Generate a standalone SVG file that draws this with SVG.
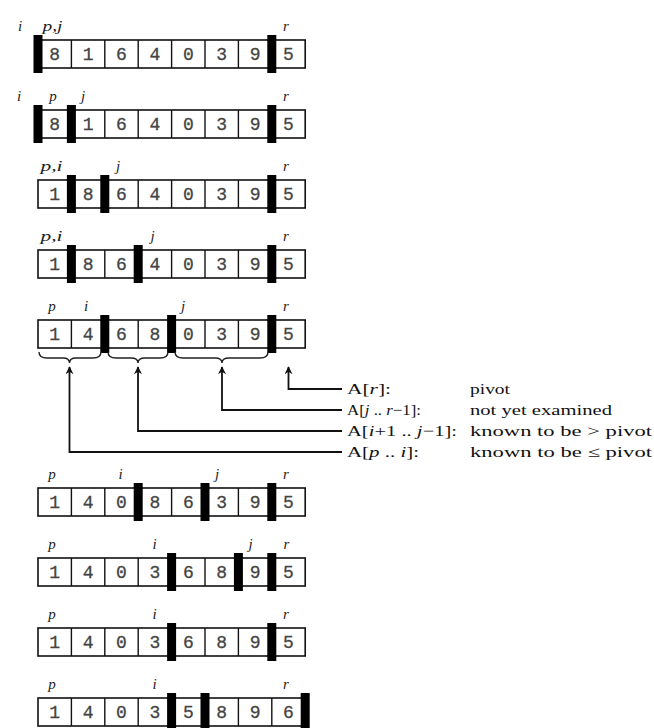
<svg xmlns="http://www.w3.org/2000/svg" width="654" height="728" viewBox="0 0 654 728">
<style>
.box{fill:none;stroke:#111;stroke-width:1.6}
.div{stroke:#111;stroke-width:1.4}
.bar{fill:#000}
.d{font-family:"Liberation Mono","DejaVu Sans Mono",monospace;font-size:18px;fill:#444;stroke:#444;stroke-width:0.3;text-anchor:middle}
.lb{font-family:"Liberation Serif","Times New Roman",serif;font-style:italic;font-size:15px;fill:#222;text-anchor:middle}
.lg{font-family:"Liberation Serif","Times New Roman",serif;font-size:15px;fill:#111}
.it{font-style:italic}
.con{fill:none;stroke:#111;stroke-width:1.8}
.br{fill:none;stroke:#222;stroke-width:1.4}
</style>
<defs>
<marker id="ah" viewBox="0 0 10 10" refX="9" refY="5" markerWidth="11" markerHeight="8" markerUnits="userSpaceOnUse" orient="auto">
<path d="M0,0 L10,5 L0,10 L3,5 Z" fill="#111"/>
</marker>
<g id="grid">
<rect class="box" x="38" y="0" width="267.2" height="28"/>
<line class="div" x1="71.4" y1="0" x2="71.4" y2="28"/>
<line class="div" x1="104.8" y1="0" x2="104.8" y2="28"/>
<line class="div" x1="138.2" y1="0" x2="138.2" y2="28"/>
<line class="div" x1="171.6" y1="0" x2="171.6" y2="28"/>
<line class="div" x1="205" y1="0" x2="205" y2="28"/>
<line class="div" x1="238.4" y1="0" x2="238.4" y2="28"/>
<line class="div" x1="271.8" y1="0" x2="271.8" y2="28"/>
</g>
</defs>

<g id="row1" transform="translate(0,40)">
<use href="#grid"/>
<text class="d" y="20"><tspan x="54.7">8</tspan><tspan x="88.1">1</tspan><tspan x="121.5">6</tspan><tspan x="154.9">4</tspan><tspan x="188.3">0</tspan><tspan x="221.7">3</tspan><tspan x="255.1">9</tspan><tspan x="288.5">5</tspan></text>
<rect class="bar" x="33.5" y="-5" width="9" height="38"/>
<rect class="bar" x="267.3" y="-5" width="9" height="38"/>
<text class="lb" x="20" y="-9">i</text>
<text class="lb" x="52.5" y="-9" textLength="20" lengthAdjust="spacingAndGlyphs">p,j</text>
<text class="lb" x="286" y="-9">r</text>
</g>

<g id="row2" transform="translate(0,110)">
<use href="#grid"/>
<text class="d" y="20"><tspan x="54.7">8</tspan><tspan x="88.1">1</tspan><tspan x="121.5">6</tspan><tspan x="154.9">4</tspan><tspan x="188.3">0</tspan><tspan x="221.7">3</tspan><tspan x="255.1">9</tspan><tspan x="288.5">5</tspan></text>
<rect class="bar" x="33.5" y="-5" width="9" height="38"/>
<rect class="bar" x="66.9" y="-5" width="9" height="38"/>
<rect class="bar" x="267.3" y="-5" width="9" height="38"/>
<text class="lb" x="19" y="-9">i</text>
<text class="lb" x="53" y="-9">p</text>
<text class="lb" x="83" y="-9">j</text>
<text class="lb" x="286" y="-9">r</text>
</g>

<g id="row3" transform="translate(0,180)">
<use href="#grid"/>
<text class="d" y="20"><tspan x="54.7">1</tspan><tspan x="88.1">8</tspan><tspan x="121.5">6</tspan><tspan x="154.9">4</tspan><tspan x="188.3">0</tspan><tspan x="221.7">3</tspan><tspan x="255.1">9</tspan><tspan x="288.5">5</tspan></text>
<rect class="bar" x="66.9" y="-5" width="9" height="38"/>
<rect class="bar" x="100.3" y="-5" width="9" height="38"/>
<rect class="bar" x="267.3" y="-5" width="9" height="38"/>
<text class="lb" x="51.5" y="-9" textLength="22" lengthAdjust="spacingAndGlyphs">p,i</text>
<text class="lb" x="118" y="-9">j</text>
<text class="lb" x="286" y="-9">r</text>
</g>

<g id="row4" transform="translate(0,250)">
<use href="#grid"/>
<text class="d" y="20"><tspan x="54.7">1</tspan><tspan x="88.1">8</tspan><tspan x="121.5">6</tspan><tspan x="154.9">4</tspan><tspan x="188.3">0</tspan><tspan x="221.7">3</tspan><tspan x="255.1">9</tspan><tspan x="288.5">5</tspan></text>
<rect class="bar" x="66.9" y="-5" width="9" height="38"/>
<rect class="bar" x="133.7" y="-5" width="9" height="38"/>
<rect class="bar" x="267.3" y="-5" width="9" height="38"/>
<text class="lb" x="51.5" y="-9" textLength="22" lengthAdjust="spacingAndGlyphs">p,i</text>
<text class="lb" x="152.5" y="-9">j</text>
<text class="lb" x="286" y="-9">r</text>
</g>

<g id="row5" transform="translate(0,320)">
<use href="#grid"/>
<text class="d" y="20"><tspan x="54.7">1</tspan><tspan x="88.1">4</tspan><tspan x="121.5">6</tspan><tspan x="154.9">8</tspan><tspan x="188.3">0</tspan><tspan x="221.7">3</tspan><tspan x="255.1">9</tspan><tspan x="288.5">5</tspan></text>
<rect class="bar" x="100.3" y="-5" width="9" height="38"/>
<rect class="bar" x="167.1" y="-5" width="9" height="38"/>
<rect class="bar" x="267.3" y="-5" width="9" height="38"/>
<text class="lb" x="52" y="-9">p</text>
<text class="lb" x="86" y="-9">i</text>
<text class="lb" x="183" y="-9">j</text>
<text class="lb" x="286" y="-9">r</text>
</g>

<g id="connectors">
<path class="br" d="M39,352 Q39,358 47,358 L63,358 Q69.5,358 69.5,363 Q69.5,358 76,358 L93,358 Q101,358 101,352"/>
<path class="br" d="M108,352 Q108,358 116,358 L131,358 Q138,358 138,363 Q138,358 145,358 L160,358 Q168,358 168,352"/>
<path class="br" d="M175,352 Q175,358 183,358 L215,358 Q222,358 222,363 Q222,358 229,358 L260,358 Q268,358 268,352"/>
<path class="con" d="M342,452 L69.5,452 L69.5,367" marker-end="url(#ah)"/>
<path class="con" d="M342,431 L138,431 L138,367" marker-end="url(#ah)"/>
<path class="con" d="M342,410 L222,410 L222,367" marker-end="url(#ah)"/>
<path class="con" d="M342,389 L288.5,389 L288.5,367" marker-end="url(#ah)"/>
</g>

<g id="legend">
<text class="lg" x="347" y="394" textLength="44" lengthAdjust="spacingAndGlyphs">A[<tspan class="it">r</tspan>]:</text>
<text class="lg" x="347" y="415" textLength="74" lengthAdjust="spacingAndGlyphs">A[<tspan class="it">j</tspan> .. <tspan class="it">r</tspan>−1]:</text>
<text class="lg" x="347" y="436" textLength="110" lengthAdjust="spacingAndGlyphs">A[<tspan class="it">i</tspan>+1 .. <tspan class="it">j</tspan>−1]:</text>
<text class="lg" x="347" y="457" textLength="72" lengthAdjust="spacingAndGlyphs">A[<tspan class="it">p</tspan> .. <tspan class="it">i</tspan>]:</text>
<text class="lg" x="470" y="394" textLength="40" lengthAdjust="spacingAndGlyphs">pivot</text>
<text class="lg" x="470" y="415" textLength="142" lengthAdjust="spacingAndGlyphs">not yet examined</text>
<text class="lg" x="470" y="436" textLength="182" lengthAdjust="spacingAndGlyphs">known to be &gt; pivot</text>
<text class="lg" x="470" y="457" textLength="182" lengthAdjust="spacingAndGlyphs">known to be ≤ pivot</text>
</g>

<g id="row6" transform="translate(0,488)">
<use href="#grid"/>
<text class="d" y="20"><tspan x="54.7">1</tspan><tspan x="88.1">4</tspan><tspan x="121.5">0</tspan><tspan x="154.9">8</tspan><tspan x="188.3">6</tspan><tspan x="221.7">3</tspan><tspan x="255.1">9</tspan><tspan x="288.5">5</tspan></text>
<rect class="bar" x="133.7" y="-5" width="9" height="38"/>
<rect class="bar" x="200.5" y="-5" width="9" height="38"/>
<rect class="bar" x="267.3" y="-5" width="9" height="38"/>
<text class="lb" x="52" y="-9">p</text>
<text class="lb" x="120.5" y="-9">i</text>
<text class="lb" x="217" y="-9">j</text>
<text class="lb" x="286" y="-9">r</text>
</g>

<g id="row7" transform="translate(0,558)">
<use href="#grid"/>
<text class="d" y="20"><tspan x="54.7">1</tspan><tspan x="88.1">4</tspan><tspan x="121.5">0</tspan><tspan x="154.9">3</tspan><tspan x="188.3">6</tspan><tspan x="221.7">8</tspan><tspan x="255.1">9</tspan><tspan x="288.5">5</tspan></text>
<rect class="bar" x="167.1" y="-5" width="9" height="38"/>
<rect class="bar" x="233.9" y="-5" width="9" height="38"/>
<rect class="bar" x="267.3" y="-5" width="9" height="38"/>
<text class="lb" x="52" y="-9">p</text>
<text class="lb" x="154.5" y="-9">i</text>
<text class="lb" x="250.5" y="-9">j</text>
<text class="lb" x="286.5" y="-9">r</text>
</g>

<g id="row8" transform="translate(0,628)">
<use href="#grid"/>
<text class="d" y="20"><tspan x="54.7">1</tspan><tspan x="88.1">4</tspan><tspan x="121.5">0</tspan><tspan x="154.9">3</tspan><tspan x="188.3">6</tspan><tspan x="221.7">8</tspan><tspan x="255.1">9</tspan><tspan x="288.5">5</tspan></text>
<rect class="bar" x="167.1" y="-5" width="9" height="38"/>
<rect class="bar" x="267.3" y="-5" width="9" height="38"/>
<text class="lb" x="52" y="-9">p</text>
<text class="lb" x="154.5" y="-9">i</text>
<text class="lb" x="286" y="-9">r</text>
</g>

<g id="row9" transform="translate(0,698)">
<use href="#grid"/>
<text class="d" y="20"><tspan x="54.7">1</tspan><tspan x="88.1">4</tspan><tspan x="121.5">0</tspan><tspan x="154.9">3</tspan><tspan x="188.3">5</tspan><tspan x="221.7">8</tspan><tspan x="255.1">9</tspan><tspan x="288.5">6</tspan></text>
<rect class="bar" x="167.1" y="-5" width="9" height="38"/>
<rect class="bar" x="200.5" y="-5" width="9" height="38"/>
<rect class="bar" x="300.7" y="-5" width="9" height="38"/>
<text class="lb" x="52" y="-9">p</text>
<text class="lb" x="154.5" y="-9">i</text>
<text class="lb" x="286" y="-9">r</text>
</g>
</svg>
